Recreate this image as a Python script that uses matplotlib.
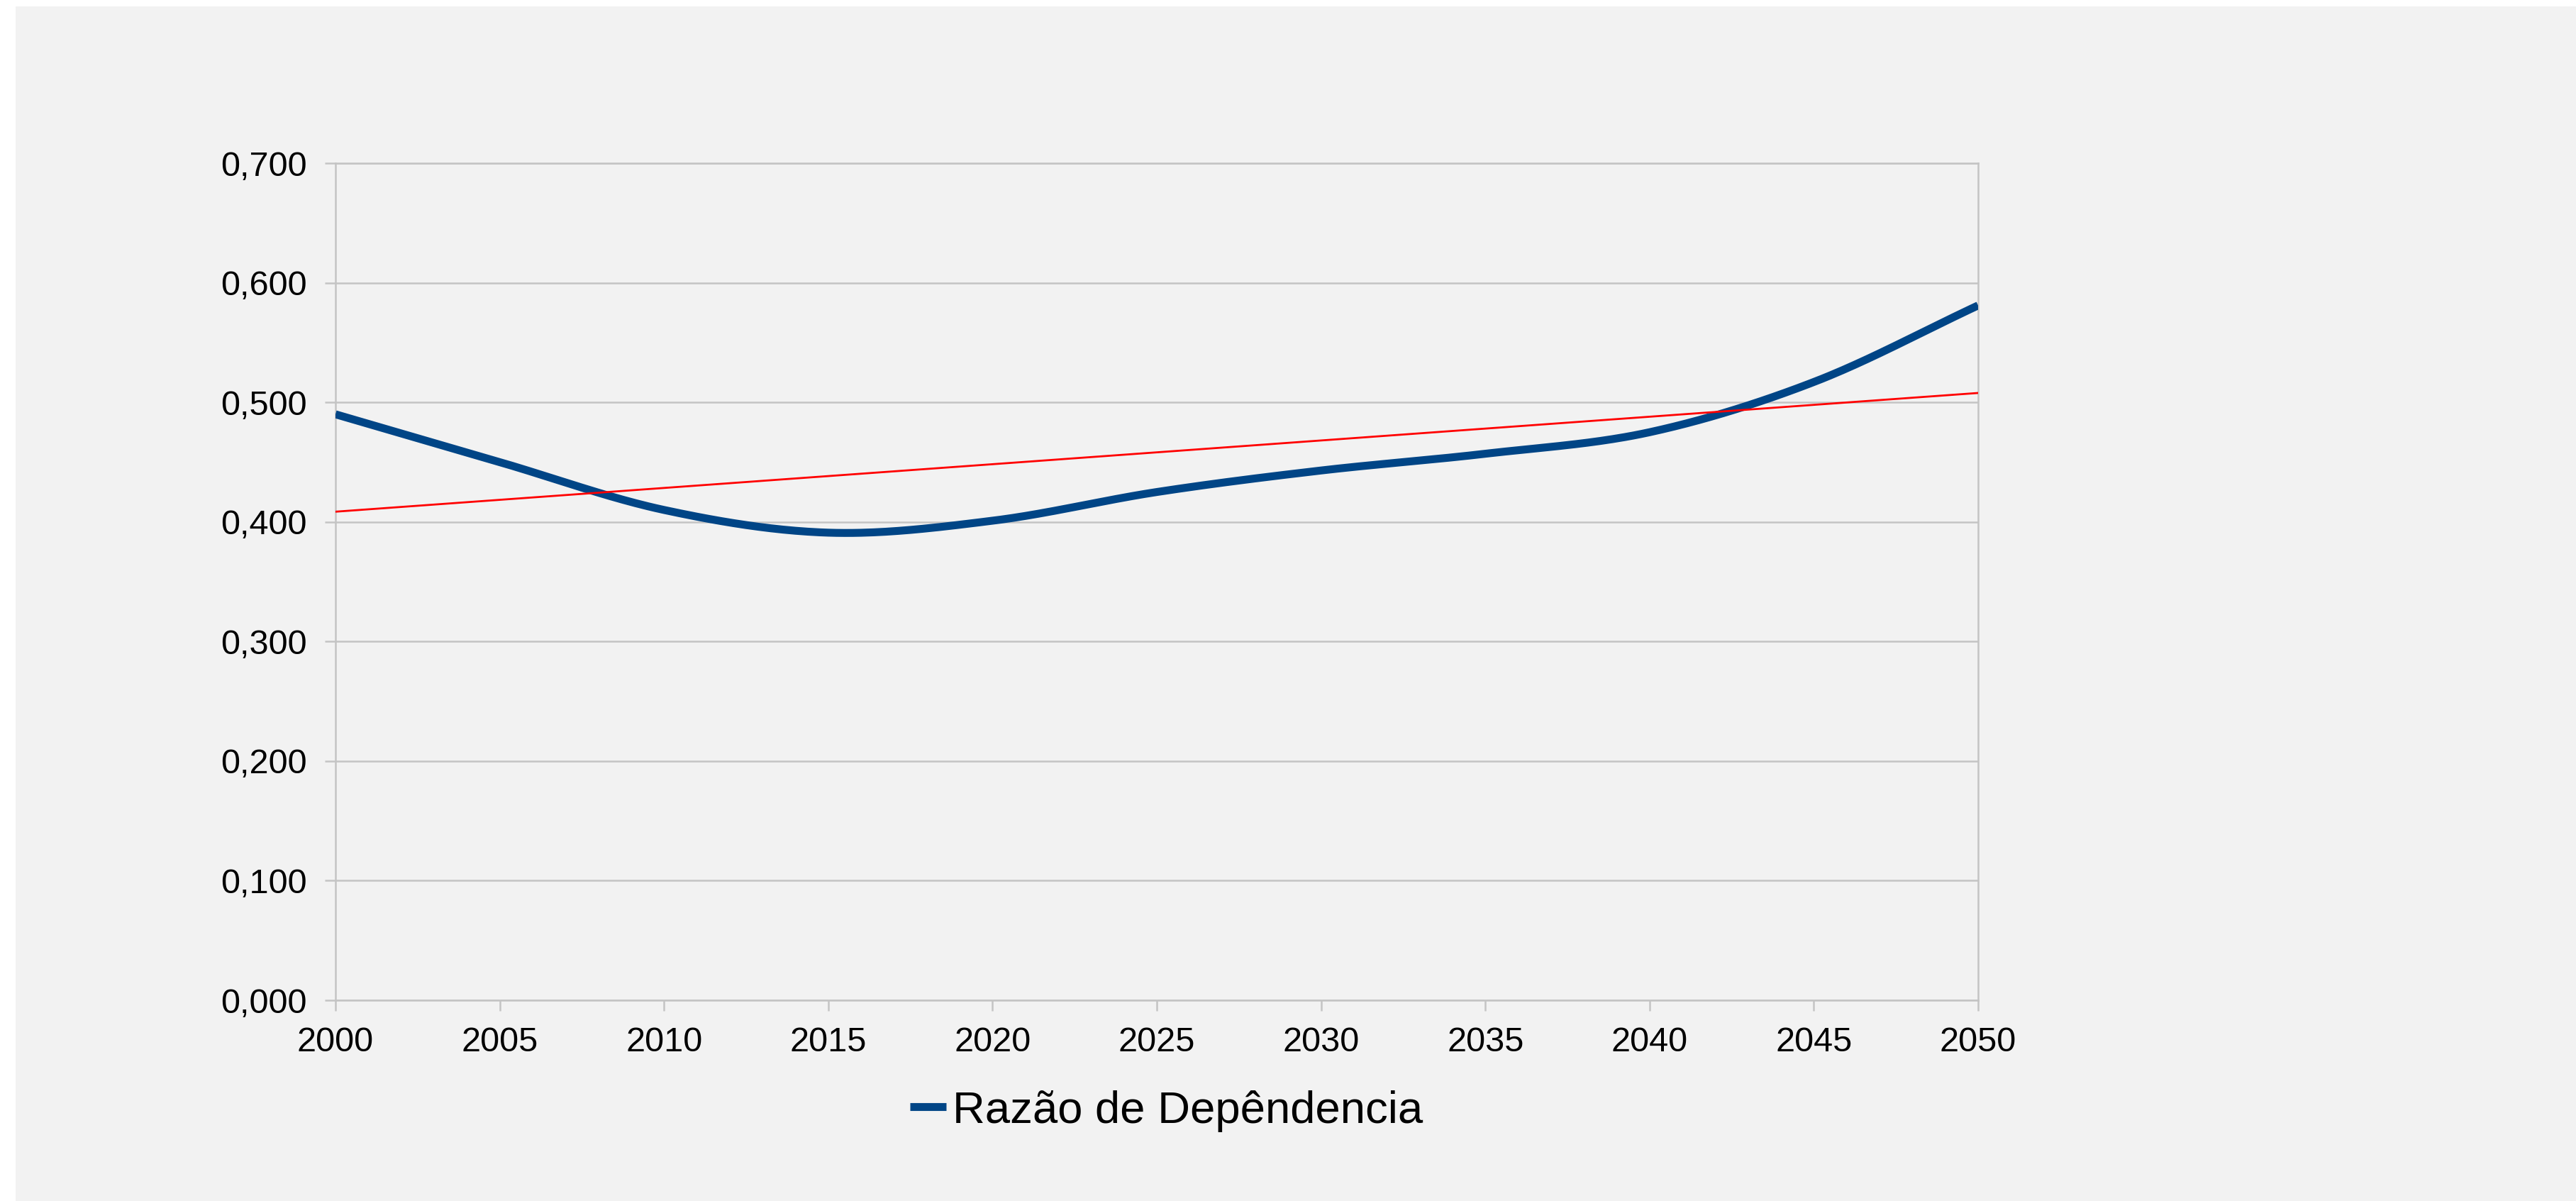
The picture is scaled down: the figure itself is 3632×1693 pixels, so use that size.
import numpy as np
import matplotlib
matplotlib.use('Agg')
import matplotlib.pyplot as plt
from matplotlib.patches import Rectangle
from matplotlib.ticker import FuncFormatter

plt.rcParams['font.family'] = ['Liberation Sans', 'DejaVu Sans']

# data (5-year points)
years = [2000, 2005, 2010, 2015, 2020, 2025, 2030, 2035, 2040, 2045, 2050]
razao = [0.490, 0.450, 0.410, 0.391, 0.401, 0.425, 0.443, 0.457, 0.475, 0.517, 0.581]
serie_label = 'Razão de Depêndencia'
y_ticks = [0.0, 0.1, 0.2, 0.3, 0.4, 0.5, 0.6, 0.7]

bg = '#f2f2f2'
grid_col = '#c4c4c4'


def smooth(xs, ys, n=40):
    # catmull-rom style smoothing, like the spreadsheet "smooth line" option
    xs = np.asarray(xs, float)
    ys = np.asarray(ys, float)
    px = np.concatenate([[2 * xs[0] - xs[1]], xs, [2 * xs[-1] - xs[-2]]])
    py = np.concatenate([[2 * ys[0] - ys[1]], ys, [2 * ys[-1] - ys[-2]]])
    outx, outy = [], []
    t = np.linspace(0, 1, n, endpoint=False)
    for i in range(1, len(px) - 2):
        for p, out in ((px, outx), (py, outy)):
            p0, p1, p2, p3 = p[i - 1], p[i], p[i + 1], p[i + 2]
            out.extend(0.5 * (2 * p1 + (-p0 + p2) * t + (2 * p0 - 5 * p1 + 4 * p2 - p3) * t ** 2
                              + (-p0 + 3 * p1 - 3 * p2 + p3) * t ** 3))
    outx.append(xs[-1])
    outy.append(ys[-1])
    return np.array(outx), np.array(outy)


fig = plt.figure(figsize=(18.16, 8.465), dpi=200, facecolor='white')
fig.patches.append(Rectangle((22 / 3632, 0), 1, 1 - 9 / 1693, transform=fig.transFigure,
                             facecolor=bg, edgecolor='none', zorder=-10))

ax = fig.add_axes([473 / 3632, 1 - 1410 / 1693, (2789 - 473) / 3632, (1410 - 230) / 1693])
ax.set_facecolor(bg)

sx, sy = smooth(years, razao)
ax.plot(sx, sy, color='#004586', lw=4.0, solid_capstyle='butt', label=serie_label, zorder=3)

# linear trend line
coef = np.polyfit(years, razao, 1)
ax.plot([years[0], years[-1]], np.polyval(coef, [years[0], years[-1]]), color='#ff0000', lw=1.0, zorder=4)

ax.set_xlim(2000, 2050)
ax.set_ylim(0, 0.7)
ax.set_xticks(range(2000, 2051, 5))
ax.set_yticks(y_ticks)
ax.yaxis.set_major_formatter(FuncFormatter(lambda v, p: ('%.3f' % v).replace('.', ',')))
ax.grid(axis='y', color=grid_col, lw=0.9)
ax.set_axisbelow(True)
for s in ax.spines.values():
    s.set_color(grid_col)
    s.set_linewidth(0.9)
ax.tick_params(axis='both', colors=grid_col, length=5.4, width=0.9, labelcolor='black', labelsize=17.5)
ax.tick_params(axis='y', pad=9)
ax.tick_params(axis='x', pad=8)

fig.legend(loc='center left', bbox_to_anchor=(1283 / 3632, 1 - 1566 / 1693), frameon=False,
           fontsize=22.8, handlelength=0.8, handletextpad=0.15, borderaxespad=0, borderpad=0)

fig.savefig('out.png', dpi=200, facecolor='white')
